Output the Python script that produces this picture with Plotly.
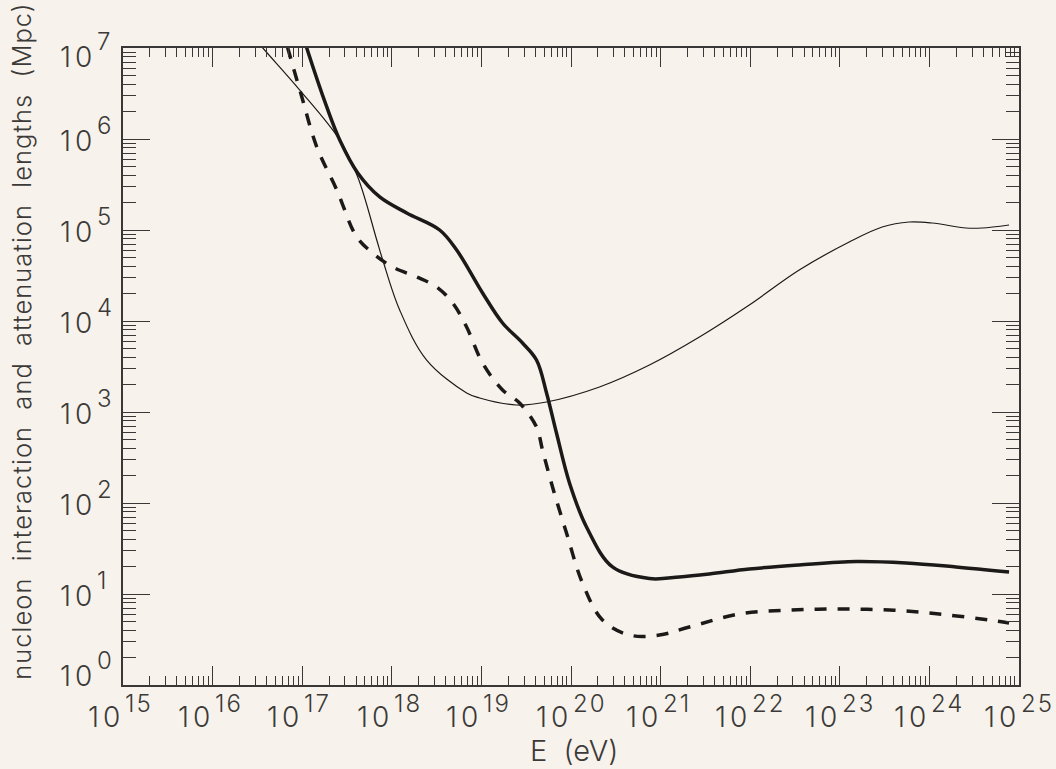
import numpy as np
import plotly.graph_objects as go

# log10 of energy E (eV) and log10 of length (Mpc)
thin_logE = [16.36, 16.561, 16.973, 17.419, 17.620, 17.832, 17.899, 18.088, 18.389, 18.835,
             18.980, 19.392, 19.727, 20.318, 20.875, 21.433, 21.990, 22.547, 23.105, 23.473,
             23.774, 24.030, 24.409, 24.588, 24.889]
thin_logL = [7.231, 7.0, 6.538, 5.989, 5.582, 4.890, 4.670, 4.121, 3.571, 3.209,
             3.154, 3.077, 3.110, 3.275, 3.516, 3.824, 4.176, 4.560, 4.868, 5.033,
             5.088, 5.077, 5.022, 5.022, 5.055]

thick_logE = [16.973, 17.051, 17.274, 17.419, 17.620, 17.865, 18.166, 18.534, 18.724, 19.013,
              19.236, 19.459, 19.615, 19.727, 19.838, 19.983, 20.173, 20.463, 20.875, 21.210,
              21.544, 21.990, 22.547, 23.183, 23.740, 24.298, 24.889]
thick_logL = [7.253, 7.0, 6.352, 5.989, 5.626, 5.363, 5.187, 5.0, 4.780, 4.308,
              3.978, 3.758, 3.571, 3.209, 2.769, 2.220, 1.736, 1.297, 1.170, 1.187,
              1.220, 1.275, 1.319, 1.357, 1.341, 1.297, 1.242]

dash_logE = [16.773, 16.839, 16.996, 17.163, 17.386, 17.609, 17.787, 18.010, 18.278, 18.501,
             18.679, 18.835, 19.013, 19.236, 19.426, 19.615, 19.682, 19.794, 19.950, 20.128,
             20.351, 20.652, 20.987, 21.321, 21.878, 22.436, 22.993, 23.551, 24.108, 24.666,
             24.889]
dash_logL = [7.253, 7.0, 6.462, 5.912, 5.440, 4.923, 4.747, 4.593, 4.484, 4.374,
             4.198, 3.934, 3.538, 3.242, 3.099, 2.835, 2.582, 2.176, 1.670, 1.121,
             0.714, 0.549, 0.549, 0.637, 0.780, 0.824, 0.835, 0.824, 0.780, 0.714,
             0.681]

x_exps = list(range(15, 26))
y_exps = list(range(0, 8))
tick_base = "10"
x_label = "E  (eV)"
y_label = "nucleon  interaction  and  attenuation  lengths  (Mpc)"

BG = "#f7f3ec"
INK = "#1c1a19"
AX = "#3a3836"
TXT = "#3c3a38"
FONT = "Inter"
WEIGHT = 300
BASE_SIZE = 28
EXP_SIZE = 24


def spaced(s, px):
    return f"<span style='letter-spacing:{px}px'>{s}</span>"


fig = go.Figure()
fig.add_trace(go.Scatter(x=10.0 ** np.array(thin_logE), y=10.0 ** np.array(thin_logL), mode="lines",
                         line=dict(color=INK, width=1.2, shape="spline", smoothing=1.0),
                         showlegend=False))
fig.add_trace(go.Scatter(x=10.0 ** np.array(thick_logE), y=10.0 ** np.array(thick_logL), mode="lines",
                         line=dict(color=INK, width=3.5, shape="spline", smoothing=1.0),
                         showlegend=False))
fig.add_trace(go.Scatter(x=10.0 ** np.array(dash_logE), y=10.0 ** np.array(dash_logL), mode="lines",
                         line=dict(color=INK, width=3.5, dash="12px,11px", shape="spline", smoothing=1.0),
                         showlegend=False))

base_font = dict(family=FONT, size=BASE_SIZE, color=TXT, weight=WEIGHT)
exp_font = dict(family=FONT, size=EXP_SIZE, color=TXT, weight=WEIGHT)

annotations = []
for k in x_exps:
    annotations.append(dict(x=k, xref="x", y=0, yref="paper", text=spaced(tick_base, 4), showarrow=False,
                            xanchor="right", yanchor="middle", xshift=2, yshift=-32,
                            borderpad=0, font=base_font))
    annotations.append(dict(x=k, xref="x", y=0, yref="paper", text=spaced(str(k), 2), showarrow=False,
                            xanchor="left", yanchor="middle", xshift=1, yshift=-18.5,
                            borderpad=0, font=exp_font))
for k in y_exps:
    off = -9 if k == y_exps[0] else (9 if k == y_exps[-1] else 2)
    annotations.append(dict(x=0, xref="paper", y=k, yref="y", text=spaced(tick_base, 4), showarrow=False,
                            xanchor="right", yanchor="middle", xshift=-26, yshift=-off,
                            borderpad=0, font=base_font))
    annotations.append(dict(x=0, xref="paper", y=k, yref="y", text=str(k), showarrow=False,
                            xanchor="left", yanchor="middle", xshift=-27, yshift=-(off - 15.5),
                            borderpad=0, font=exp_font))
annotations.append(dict(x=0.503, xref="paper", y=-0.1036, yref="paper", text=x_label,
                        showarrow=False, xanchor="center", yanchor="middle",
                        font=dict(family=FONT, size=29, color=TXT, weight=WEIGHT)))
annotations.append(dict(x=-0.1127, xref="paper", y=0.539, yref="paper",
                        text=spaced(y_label, 1),
                        showarrow=False, xanchor="center", yanchor="middle", textangle=-90,
                        font=dict(family=FONT, size=25.5, color=TXT, weight=WEIGHT)))

fig.update_layout(
    width=1056, height=769,
    margin=dict(l=123, r=37, t=48, b=84),
    paper_bgcolor=BG, plot_bgcolor=BG,
    font=dict(family=FONT, color=TXT, size=27),
    annotations=annotations,
)
fig.update_xaxes(
    type="log", range=[15, 25],
    tickmode="array", tickvals=[10.0 ** k for k in x_exps], showticklabels=False,
    ticks="inside", ticklen=19, tickwidth=1.4, tickcolor=AX,
    minor=dict(ticks="inside", ticklen=9, tickwidth=1.4, tickcolor=AX, dtick="D1", showgrid=False),
    showline=True, linecolor=AX, linewidth=1.6, mirror="allticks",
    showgrid=False, zeroline=False,
)
fig.update_yaxes(
    type="log", range=[0, 7],
    tickmode="array", tickvals=[10.0 ** k for k in y_exps], showticklabels=False,
    ticks="inside", ticklen=27, tickwidth=1.4, tickcolor=AX,
    minor=dict(ticks="inside", ticklen=13, tickwidth=1.4, tickcolor=AX, dtick="D1", showgrid=False),
    showline=True, linecolor=AX, linewidth=1.6, mirror="allticks",
    showgrid=False, zeroline=False,
)

fig.write_html("out.html")
